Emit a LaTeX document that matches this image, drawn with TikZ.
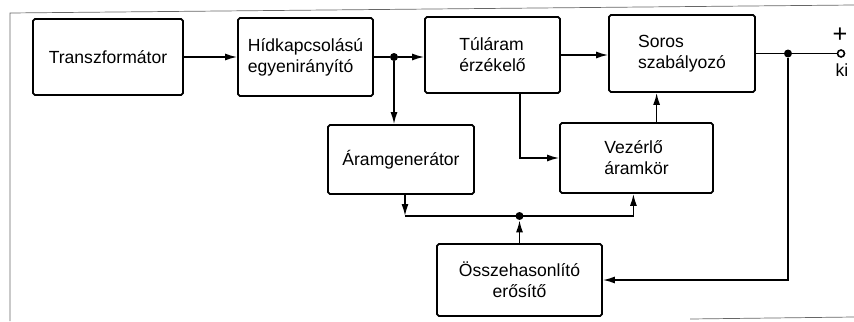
\documentclass[tikz,border=0pt]{standalone}
\usepackage{fontspec}
\setmainfont{Liberation Sans}
\usetikzlibrary{arrows.meta,calc}
\tikzset{
    blockbox/.style={draw, line width=1pt, rounded corners=1pt, align=left,
        font=\normalsize, inner sep=2pt},
    sigarrow/.style={-{Latex[length=2.4mm,width=1.4mm]}, line width=0.9pt},
    sigline/.style={line width=0.9pt},
    junction/.style={circle, fill, inner sep=0pt, minimum size=1.6mm},
    terminal/.style={circle, draw, line width=0.9pt, inner sep=0pt, minimum size=1.4mm},
    framerule/.style={line width=0.4pt, black!60}
}

\begin{document}
\begin{tikzpicture}[x=0.02cm, y=-0.02cm]
\useasboundingbox (0,0) rectangle (854,321);
% frame of the sheet
\draw[framerule] (10,321) -- (10,13) -- (854,5);
\draw[framerule] (690,319) -- (854,317);
% blocks
\node[blockbox, minimum width=3cm, minimum height=1.52cm] (trafo) at (108,57) {Transzformátor};
\node[blockbox, minimum width=2.7cm, minimum height=1.56cm] (hid) at (305.5,57) {Hídkapcsolású\\egyenirányító};
\node[blockbox, minimum width=2.7cm, minimum height=1.52cm] (tul) at (492.5,55) {Túláram\\érzékelő};
\node[blockbox, minimum width=2.92cm, minimum height=1.54cm] (soros) at (682,53.5) {Soros\\szabályozó};
\node[blockbox, minimum width=2.92cm, minimum height=1.38cm] (aram) at (401,159.5) {Áramgenerátor};
\node[blockbox, minimum width=3.06cm, minimum height=1.4cm] (vez) at (636.5,158) {Vezérlő\\áramkör};
\node[blockbox, align=center, minimum width=3.3cm, minimum height=1.44cm] (ossz) at (519.5,280) {Összehasonlító\\erősítő};
% junctions and output
\node[junction] (jrect) at (394,57) {};
\node[junction] (jout) at (788,53.5) {};
\node[junction] (jbus) at (ossz.north |- 0,216) {};
\node[terminal] (out) at (841,53.5) {};
\node[font=\Large] (plus) at (840,35) {+};
\node (ki) at (842,70) {ki};
% taps on the block edges
\coordinate (tultap) at ($(tul.south west)!0.7!(tul.south east)$);
\coordinate (vezki) at ($(vez.north west)!0.63!(vez.north east)$);
\coordinate (vezbe) at ($(vez.south west)!0.48!(vez.south east)$);
\coordinate (aramki) at ($(aram.south west)!0.527!(aram.south east)$);
% connectors
\draw[sigarrow] (trafo) -- (hid);
\draw[sigline] (hid) -- (jrect);
\draw[sigarrow] (jrect) -- (jrect -| tul.west);
\draw[sigarrow] (jrect) -- (jrect |- aram.north);
\draw[sigarrow] (tul.east) -- (tul.east -| soros.west);
\draw[sigline] (soros.east) -- (jout);
\draw[sigline] (jout) -- (out);
\draw[sigarrow] (jout) |- (ossz.east);
\draw[sigarrow] (tultap) |- (vez.west);
\draw[sigarrow] (vezki) -- (vezki |- soros.south);
\draw[sigarrow] (aramki) -- (aramki |- jbus);
\draw[sigarrow] (aramki |- jbus) -| (vezbe);
\draw[sigarrow] (ossz.north) -- (jbus);
\end{tikzpicture}
\end{document}
